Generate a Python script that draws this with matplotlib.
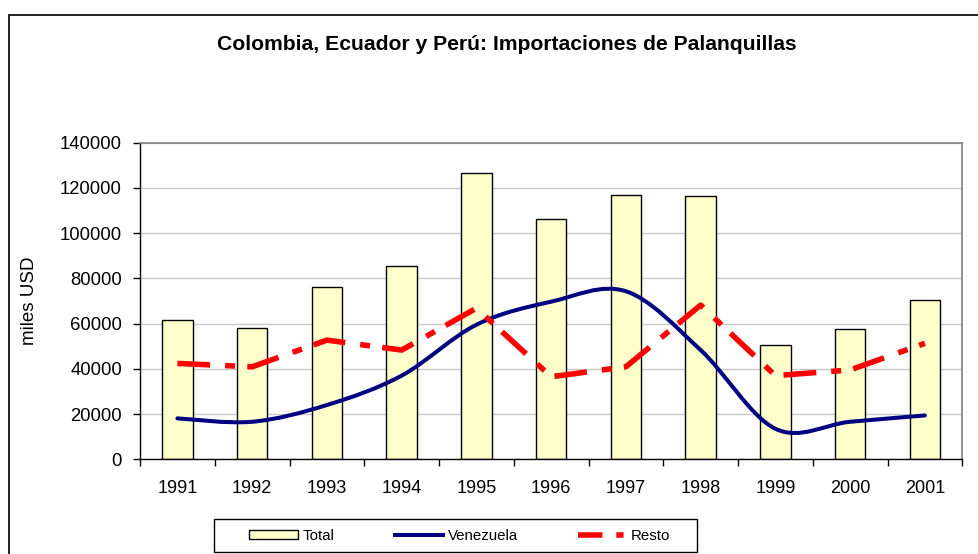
import matplotlib
matplotlib.use("Agg")
import matplotlib.pyplot as plt
import numpy as np
from matplotlib.path import Path
from matplotlib.patches import PathPatch, Patch, Rectangle
from matplotlib.lines import Line2D

years = ["1991", "1992", "1993", "1994", "1995", "1996",
         "1997", "1998", "1999", "2000", "2001"]
total = [61500, 58200, 76300, 85500, 126700, 106100,
         117000, 116400, 50500, 57600, 70600]
venezuela = [18100, 16600, 24000, 37000, 59500, 69700,
             74300, 48300, 13500, 16600, 19400]
resto = [42400, 40900, 52700, 48300, 66800, 36500,
         40900, 68200, 37000, 39500, 51300]

W, H, DPI = 979, 554, 100
plt.rcParams["font.family"] = ["Liberation Sans", "DejaVu Sans"]


def smooth_path(xs, ys):
    # Excel-like smoothed line: cubic bezier through every point
    p = np.column_stack([xs, ys]).astype(float)
    n = len(p)
    verts = [p[0]]
    codes = [Path.MOVETO]
    for i in range(n - 1):
        p0 = p[max(i - 1, 0)]
        p3 = p[min(i + 2, n - 1)]
        c1 = p[i] + (p[i + 1] - p0) / 6.0
        c2 = p[i + 1] - (p3 - p[i]) / 6.0
        verts += [c1, c2, p[i + 1]]
        codes += [Path.CURVE4] * 3
    return Path(verts, codes)


fig = plt.figure(figsize=(W / DPI, H / DPI), dpi=DPI)
ax = fig.add_axes([140 / W, 1 - 459.3 / H, (962.3 - 140) / W, (459.3 - 142.7) / H])

x = np.arange(len(years))
ax.bar(x, total, width=0.41, color="#FFFFCC", edgecolor="black", linewidth=1.0, zorder=2)

red_dash = (0, (5.9, 2.7, 1.8, 2.2))
ax.add_patch(PathPatch(smooth_path(x, venezuela), fill=False, edgecolor="#000080",
                       linewidth=2.9, capstyle="round", joinstyle="round", zorder=3))
ax.plot(x, resto, color="#FF0000", linewidth=4.0, linestyle=red_dash,
        dash_capstyle="butt", zorder=4)

ax.set_xlim(-0.5, len(years) - 0.5)
ax.set_ylim(0, 140000)
ax.set_yticks(np.arange(0, 140001, 20000))
ax.set_xticks(x)
ax.set_xticklabels(years)
ax.set_xticks(np.arange(-0.5, len(years), 1.0), minor=True)
ax.tick_params(axis="x", which="major", length=0, pad=15, labelsize=13)
ax.tick_params(axis="x", which="minor", length=5, width=1, direction="out", color="black")
ax.tick_params(axis="y", length=5, width=1, direction="out", pad=8, labelsize=13.3)
ax.yaxis.grid(True, color="#C8C8C8", linewidth=1.0, zorder=0)
ax.set_axisbelow(True)
for side in ("top", "right"):
    ax.spines[side].set_color("#808080")
    ax.spines[side].set_linewidth(1.2)
for side in ("left", "bottom"):
    ax.spines[side].set_color("black")
    ax.spines[side].set_linewidth(1.0)
ax.set_ylabel("miles USD", fontsize=13.5, labelpad=16)

fig.text(507 / W, 1 - 44 / H, "Colombia, Ecuador y Perú: Importaciones de Palanquillas",
         ha="center", va="center", fontsize=15.2, fontweight="bold")

# outer chart-area border (cut off on right and bottom)
fig.add_artist(Rectangle((9 / W, -0.05), 1.2, 1 - 15 / H + 0.05, transform=fig.transFigure,
                         fill=False, edgecolor="black", linewidth=1.2, clip_on=False))

# legend box and entries
fig.add_artist(Rectangle((214 / W, 1 - 552 / H), 483 / W, 33 / H, transform=fig.transFigure,
                         fill=True, facecolor="white", edgecolor="black", linewidth=1.0))
handles = [Patch(facecolor="#FFFFCC", edgecolor="black", linewidth=1.0),
           Line2D([], [], color="#000080", linewidth=2.9),
           Line2D([], [], color="#FF0000", linewidth=4.0, linestyle=(0, (4.4, 2.5, 1.3, 2.5)),
                  dash_capstyle="butt")]
leg = fig.legend(handles, ["Total", "Venezuela", "Resto"], ncol=3, frameon=False,
                 loc="center left", bbox_to_anchor=(242 / W, 1 - 535.5 / H),
                 borderpad=0, handlelength=3.2, handleheight=0.55, handletextpad=0.35,
                 columnspacing=4.0, fontsize=10.8)

fig.savefig("out.png", dpi=DPI)
